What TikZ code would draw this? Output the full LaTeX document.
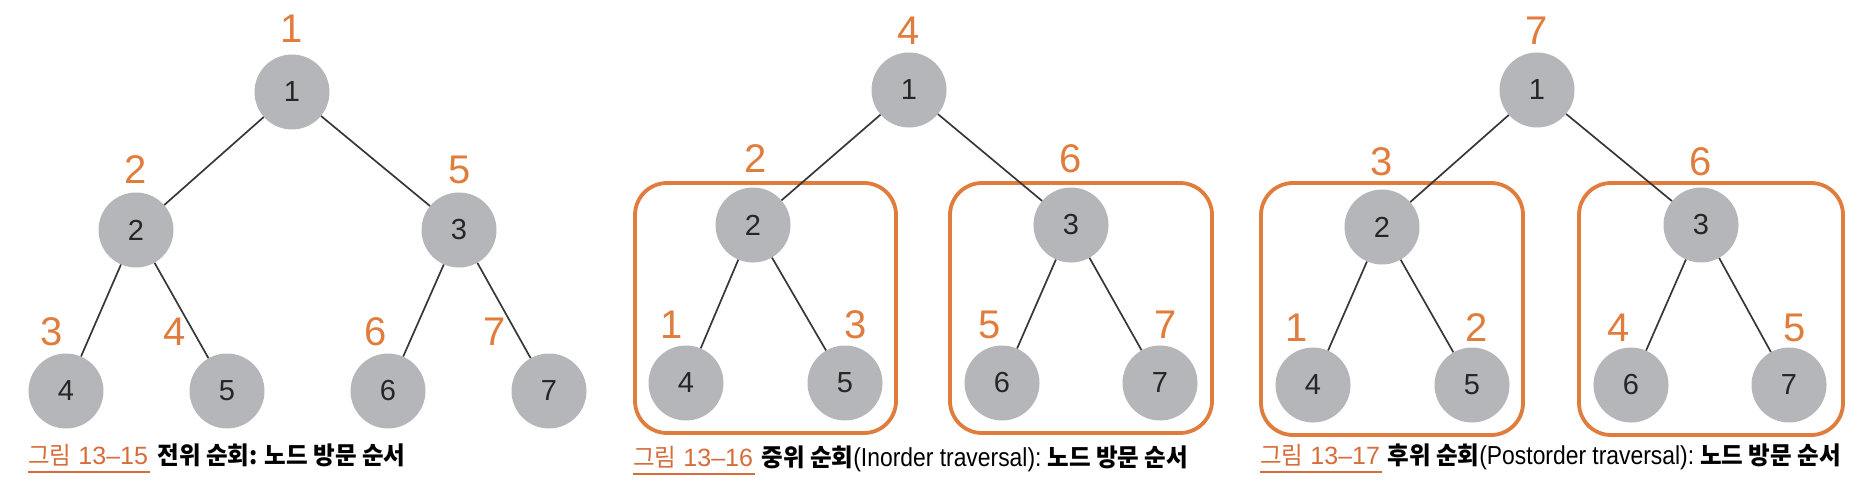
\documentclass[tikz,border=0pt]{standalone}
\usepackage{fontspec}
\setmainfont{Liberation Sans}
\newfontfamily\krfont[FakeStretch=0.96]{Noto Sans CJK KR}
\newfontfamily\latfont[FakeStretch=0.88]{Liberation Sans}
\newcommand\krbx[1]{{\krfont\bfseries\fontsize{24.5}{24.5}\selectfont #1}}
\newcommand\krrx[1]{{\krfont\fontsize{24.5}{24.5}\selectfont #1}}
\newcommand\latx[1]{{\latfont\fontsize{26}{26}\selectfont #1}}
\newcommand\digx[1]{{\fontsize{25}{25}\selectfont #1}}
\definecolor{ordot}{RGB}{225,125,60}
\definecolor{capor}{RGB}{214,108,58}
\definecolor{nodegray}{RGB}{181,182,186}
\definecolor{edgegray}{RGB}{55,55,58}
\begin{document}
\begin{tikzpicture}[x=1pt,y=-1pt,
  tn/.style={circle,fill=nodegray,minimum size=75pt,inner sep=0pt,font=\fontsize{29}{29}\selectfont,text=black!85},
  ordlab/.style={font=\fontsize{40}{40}\selectfont,text=ordot,inner sep=0pt},
  edge/.style={draw=edgegray,line width=1.7pt},
  subbox/.style={draw=ordot,line width=3.8pt,rounded corners=32pt},
  capa/.style={text=capor,inner sep=0pt,anchor=base west},
  capb/.style={text=black,inner sep=0pt,anchor=base west},
  uline/.style={draw=capor,line width=2.7pt}]
\useasboundingbox (0,0) rectangle (1865,500);
% ---------- panel 1 ----------
\node[tn] (a1) at (292,92) {1};
\node[tn] (a2) at (136,230) {2};
\node[tn] (a3) at (459,230) {3};
\node[tn] (a4) at (66,391) {4};
\node[tn] (a5) at (227,391) {5};
\node[tn] (a6) at (388,391) {6};
\node[tn] (a7) at (549,391) {7};
\draw[edge] (a1) -- (a2); \draw[edge] (a1) -- (a3);
\draw[edge] (a2) -- (a4); \draw[edge] (a2) -- (a5);
\draw[edge] (a3) -- (a6); \draw[edge] (a3) -- (a7);
\node[ordlab] (la1) at (292,29) {1};
\node[ordlab] (la2) at (136,170) {2};
\node[ordlab] (la3) at (460,170) {5};
\node[ordlab] (la4) at (52,332) {3};
\node[ordlab] (la5) at (175,332) {4};
\node[ordlab] (la6) at (376,332) {6};
\node[ordlab] (la7) at (495,332) {7};
\node[capa] (ca1) at (28,464) {\krrx{그림}\hspace{7pt}\digx{13–15}};
\node[capb] (cb1) at ([xshift=9pt]ca1.base east) {\krbx{전위 순회: 노드 방문 순서}};
\draw[uline] ([yshift=-8pt]ca1.base west) -- ([yshift=-8pt,xshift=2pt]ca1.base east);
% ---------- panel 2 ----------
\draw[subbox] (635,183) rectangle (896,433);
\draw[subbox] (950,183) rectangle (1212,433);
\node[tn] (b1) at (909,90) {1};
\node[tn] (b2) at (753,225) {2};
\node[tn] (b3) at (1071,225) {3};
\node[tn] (b4) at (686,383) {4};
\node[tn] (b5) at (845,383) {5};
\node[tn] (b6) at (1002,383) {6};
\node[tn] (b7) at (1160,383) {7};
\draw[edge] (b1) -- (b2); \draw[edge] (b1) -- (b3);
\draw[edge] (b2) -- (b4); \draw[edge] (b2) -- (b5);
\draw[edge] (b3) -- (b6); \draw[edge] (b3) -- (b7);
\node[ordlab] (lb1) at (909,31) {4};
\node[ordlab] (lb2) at (756,159) {2};
\node[ordlab] (lb3) at (1071,159) {6};
\node[ordlab] (lb4) at (672,325) {1};
\node[ordlab] (lb5) at (856,325) {3};
\node[ordlab] (lb6) at (990,325) {5};
\node[ordlab] (lb7) at (1166,325) {7};
\node[capa] (ca2) at (633,466) {\krrx{그림}\hspace{7pt}\digx{13–16}};
\node[capb] (cb2) at ([xshift=8pt]ca2.base east) {\krbx{중위 순회}\latx{(Inorder traversal):}\hspace{6pt}\krbx{노드 방문 순서}};
\draw[uline] ([yshift=-8pt]ca2.base west) -- ([yshift=-8pt,xshift=2pt]ca2.base east);
% ---------- panel 3 ----------
\draw[subbox] (1261,183) rectangle (1523,435);
\draw[subbox] (1579,183) rectangle (1843,435);
\node[tn] (c1) at (1537,90) {1};
\node[tn] (c2) at (1382,227) {2};
\node[tn] (c3) at (1701,225) {3};
\node[tn] (c4) at (1313,385) {4};
\node[tn] (c5) at (1472,385) {5};
\node[tn] (c6) at (1631,385) {6};
\node[tn] (c7) at (1789,385) {7};
\draw[edge] (c1) -- (c2); \draw[edge] (c1) -- (c3);
\draw[edge] (c2) -- (c4); \draw[edge] (c2) -- (c5);
\draw[edge] (c3) -- (c6); \draw[edge] (c3) -- (c7);
\node[ordlab] (lc1) at (1537,31) {7};
\node[ordlab] (lc2) at (1382,162) {3};
\node[ordlab] (lc3) at (1701,162) {6};
\node[ordlab] (lc4) at (1297,328) {1};
\node[ordlab] (lc5) at (1477,328) {2};
\node[ordlab] (lc6) at (1619,328) {4};
\node[ordlab] (lc7) at (1795,328) {5};
\node[capa] (ca3) at (1260,464) {\krrx{그림}\hspace{7pt}\digx{13–17}};
\node[capb] (cb3) at ([xshift=7pt]ca3.base east) {\krbx{후위 순회}\latx{(Postorder traversal):}\hspace{6pt}\krbx{노드 방문 순서}};
\draw[uline] ([yshift=-8pt]ca3.base west) -- ([yshift=-8pt,xshift=2pt]ca3.base east);
\end{tikzpicture}
\end{document}
